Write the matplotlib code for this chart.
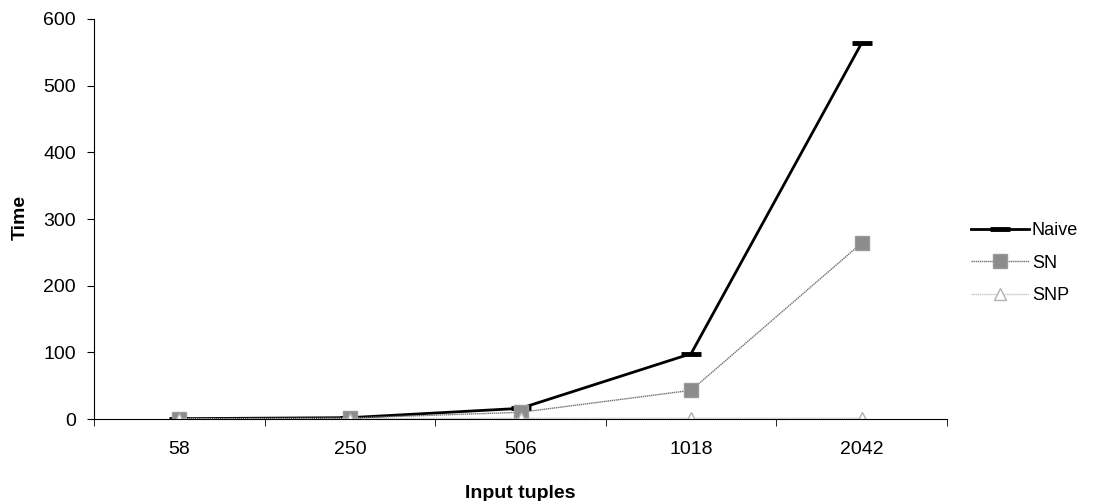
import matplotlib
matplotlib.use("Agg")
import matplotlib.pyplot as plt
import numpy as np

plt.rcParams['font.family'] = ['Liberation Sans', 'DejaVu Sans']

categories = ['58', '250', '506', '1018', '2042']
naive = [0.5, 2, 16, 98, 564]
sn = [0.3, 1.5, 10, 43, 264]
snp = [0.2, 0.5, 1, 1, 1]

x = np.arange(len(categories))

fig = plt.figure(figsize=(10.93, 5.01), dpi=100)
ax = fig.add_axes([94 / 1093, 82 / 501, 853 / 1093, 400 / 501])

ax.plot(x, naive, color='black', linewidth=2, marker='_', markersize=15,
        markeredgewidth=3.5, label='Naive')
ax.plot(x, sn, color='#707070', linewidth=1, linestyle=(0, (1, 0.5)), marker='s',
        markersize=10, markerfacecolor='#8c8c8c', markeredgecolor='#9a9a9a',
        label='SN')
ax.plot(x, snp, color='#c8c8c8', linewidth=1, linestyle=(0, (1, 0.5)), marker='^',
        markersize=9, markerfacecolor='white', markeredgecolor='#b0b0b0',
        label='SNP')

ax.set_xlim(-0.5, len(categories) - 0.5)
ax.set_ylim(0, 600)
ax.set_yticks(range(0, 601, 100))
ax.set_xticks(x)
ax.set_xticklabels(categories)
ax.set_xticks(np.arange(-0.5, len(categories) - 0.4, 1), minor=True)
ax.tick_params(axis='x', which='major', length=0, pad=16, labelsize=14)
ax.tick_params(axis='x', which='minor', length=5, direction='out', color='black')
ax.tick_params(axis='y', length=5, direction='out', labelsize=14, color='black', pad=8)

for side in ['top', 'right']:
    ax.spines[side].set_visible(False)
ax.spines['left'].set_color('black')
ax.spines['bottom'].set_color('black')

fig.text(520 / 1093, 1 - 493 / 501, 'Input tuples', fontsize=14, fontweight='bold',
         ha='center', va='center')
fig.text(20 / 1093, 1 - 217 / 501, 'Time', fontsize=14, fontweight='bold',
         ha='center', va='center', rotation=90)

ax.legend(loc='center left', bbox_to_anchor=(955 / 1093, (501 - 263) / 501),
          bbox_transform=fig.transFigure, frameon=False,
          fontsize=13, handlelength=3.2, handletextpad=0.15, labelspacing=0.85)

fig.savefig('out.png', dpi=100)
